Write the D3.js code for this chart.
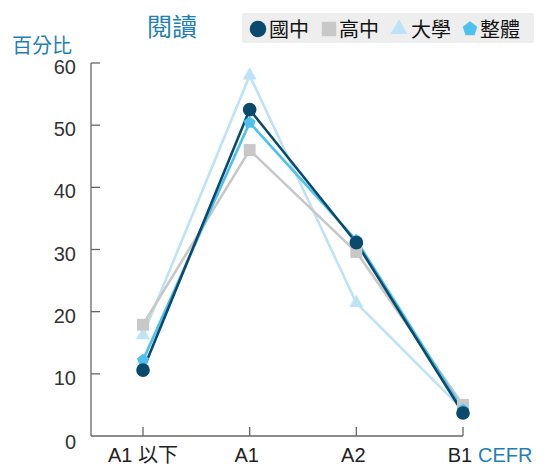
<!DOCTYPE html>
<html><head><meta charset="utf-8">
<script src="https://cdn.jsdelivr.net/npm/d3@7"></script>
<style>
body{margin:0;background:#fff;}
text{font-family:"Liberation Sans","Noto Sans CJK TC",sans-serif;}
</style></head>
<body>
<svg id="c" width="543" height="467"></svg>
<script>
const categories = ["A1 以下", "A1", "A2", "B1"];
const seriesNames = ["國中", "高中", "大學", "整體"];
const juniorHigh = [10.6, 52.5, 31.1, 3.7];
const seniorHigh = [17.9, 46.0, 29.6, 5.0];
const university = [16.2, 58.0, 21.4, 4.2];
const overall = [12.2, 50.4, 31.5, 4.2];
const yTicks = [0, 10, 20, 30, 40, 50, 60];

const colors = {"國中":"#0a4a6c","高中":"#c8c8c8","大學":"#bee3f6","整體":"#4fc1ee"};
const symbols = {"國中":d3.symbolCircle,"高中":d3.symbolSquare,"大學":d3.symbolTriangle,"整體":"pentagon"};
const series = [
  {name:"大學", values:university},
  {name:"高中", values:seniorHigh},
  {name:"整體", values:overall},
  {name:"國中", values:juniorHigh}
];

const svg = d3.select("#c");
const x = d3.scalePoint().domain(categories).range([143, 463]);
const y = d3.scaleLinear().domain([0, 60]).range([436, 63]);
const axisColor = "#666";

// axes
svg.append("line").attr("x1",91).attr("x2",91).attr("y1",y(60)).attr("y2",y(0)).attr("stroke",axisColor).attr("stroke-width",1.3);
svg.append("line").attr("x1",91).attr("x2",x("B1")).attr("y1",y(0)).attr("y2",y(0)).attr("stroke",axisColor).attr("stroke-width",1.3);
yTicks.forEach(t=>{
  if(t>0) svg.append("line").attr("x1",91).attr("x2",100).attr("y1",y(t)).attr("y2",y(t)).attr("stroke",axisColor).attr("stroke-width",1.3);
  svg.append("text").attr("x",76).attr("y",y(t)).attr("dy", t===0?"0.65em":"0.55em").attr("text-anchor","end")
    .attr("font-size",20).attr("fill","#333").text(t);
});
categories.forEach(c=>{
  svg.append("line").attr("x1",x(c)).attr("x2",x(c)).attr("y1",y(0)).attr("y2",y(0)-9).attr("stroke",axisColor).attr("stroke-width",1.3);
  svg.append("text").attr("x",x(c)-(c==="A1 以下"?0:3)).attr("y",462).attr("text-anchor","middle").attr("font-size",20).attr("fill","#222").text(c);
});
svg.append("text").attr("x",478).attr("y",462).attr("font-size",20).attr("fill","#1f7fb4").text("CEFR");
svg.append("text").attr("x",12).attr("y",53).attr("font-size",20).attr("fill","#1f7fb4").text("百分比");
svg.append("text").attr("x",147).attr("y",36).attr("font-size",25).attr("fill","#1f7fb4").text("閱讀");

function pentagon(r){
  const pts=[];
  for(let i=0;i<5;i++){const a=-Math.PI/2+i*2*Math.PI/5;pts.push([r*Math.cos(a),r*Math.sin(a)]);}
  return "M"+pts.map(p=>p.join(",")).join("L")+"Z";
}
function markerPath(name, size){
  const s = symbols[name];
  if(s==="pentagon") return pentagon(size*0.9);
  const area = name==="國中"? Math.PI*size*size*0.95 : name==="高中" ? (size*1.7)**2 : size*size*1.75;
  return d3.symbol().type(s).size(area)();
}

const line = d3.line().x((d,i)=>x(categories[i])).y(d=>y(d));
series.forEach(s=>{
  svg.append("path").attr("d",line(s.values)).attr("fill","none").attr("stroke",colors[s.name]).attr("stroke-width",2.6);
});
series.forEach(s=>{
  s.values.forEach((v,i)=>{
    svg.append("path").attr("d",markerPath(s.name,7)).attr("transform",`translate(${x(categories[i])},${y(v)})`).attr("fill",colors[s.name]);
  });
});

// legend
svg.append("rect").attr("x",242).attr("y",13).attr("width",292).attr("height",30).attr("fill","#eeeeee");
const legendItems = [["國中",258,269],["高中",329,339],["大學",399,411],["整體",470,480]];
legendItems.forEach(([n,mx,tx])=>{
  svg.append("path").attr("d",markerPath(n,8.5)).attr("transform",`translate(${mx},29)`).attr("fill",colors[n]);
  svg.append("text").attr("x",tx).attr("y",37).attr("font-size",20).attr("fill","#111").text(n);
});
</script>
</body></html>
